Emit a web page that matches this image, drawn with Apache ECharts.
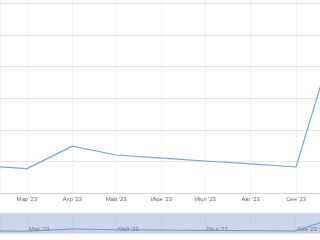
<!DOCTYPE html>
<html><head><meta charset="utf-8">
<script src="https://cdn.jsdelivr.net/npm/echarts@6/dist/echarts.min.js"></script>
<style>html,body{margin:0;padding:0;background:#fff}#c{width:320px;height:240px}</style>
</head><body><div id="c"></div>
<script>
const dates = ['2023-02-01','2023-03-01','2023-04-01','2023-05-01','2023-06-01','2023-07-01','2023-08-01','2023-09-01','2023-10-01'];
const values = [0.86, 0.78, 1.49, 1.21, 1.11, 1.02, 0.93, 0.83, 5.41];
const monthNames = ['Янв','Фев','Мар','Апр','Май','Июн','Июл','Авг','Сен','Окт','Ноя','Дек'];
const navMonths = [2, 4, 6, 8, 10, 0];

function toTime(s){ const p=s.split('-'); return new Date(+p[0], +p[1]-1, +p[2]).getTime(); }
const DAY = 86400000;
const xMin = toTime('2023-03-01') - 18.47*DAY;
const xMax = toTime('2023-03-01') + 200.4*DAY;
const seriesData = dates.map((d,i)=>[toTime(d), values[i]]);
function lbl(v){ const d=new Date(v); if(d.getDate()!==1) return ''; return monthNames[d.getMonth()]+" '"+String(d.getFullYear()%100).padStart(2,'0'); }
function navLbl(v){ const d=new Date(v); if(d.getDate()!==1 || navMonths.indexOf(d.getMonth())<0) return ''; return lbl(v); }

const chart = echarts.init(document.getElementById('c'), null, {renderer:'canvas'});
chart.setOption({
  animation:false,
  grid:[
    {left:0,right:0,top:0,bottom:46.7,containLabel:false},
    {left:0,right:0,top:213,bottom:6.4,show:true,backgroundColor:'#ccd6eb',borderWidth:0}
  ],
  xAxis:[
    {type:'time',gridIndex:0,min:xMin,max:xMax,minInterval:28*DAY,maxInterval:31*DAY,
     axisLine:{show:true,lineStyle:{color:'#ccd6eb',width:1}},axisTick:{show:false},
     splitLine:{show:true,lineStyle:{color:'#ececec',width:1,type:[2,2]}},
     axisLabel:{formatter:lbl,color:'#666',fontSize:5.8,fontFamily:'Liberation Sans, Arial, sans-serif',margin:3,showMinLabel:false,showMaxLabel:false,hideOverlap:false}},
    {type:'time',gridIndex:1,min:xMin,max:xMax,minInterval:28*DAY,maxInterval:31*DAY,
     axisLine:{show:false},axisTick:{show:false},
     splitLine:{show:true,lineStyle:{color:'#c3cde3',width:1}},
     axisLabel:{inside:true,formatter:navLbl,color:'#6b7690',fontSize:5.8,fontFamily:'Liberation Sans, Arial, sans-serif',margin:1,align:'left',padding:[0,0,0,2],showMinLabel:false,showMaxLabel:false,hideOverlap:false}}
  ],
  yAxis:[
    {type:'value',gridIndex:0,min:0,max:6.105,interval:1,axisLabel:{show:false},axisLine:{show:false},axisTick:{show:false},
     splitLine:{show:true,showMinLine:false,showMaxLine:false,lineStyle:{color:'#e6e6e6',width:1}}},
    {type:'value',gridIndex:1,min:0,max:6.5,axisLabel:{show:false},axisLine:{show:false},axisTick:{show:false},splitLine:{show:false}}
  ],
  series:[
    {type:'line',xAxisIndex:0,yAxisIndex:0,data:seriesData,symbol:'none',clip:true,
     lineStyle:{color:'#6fa8e3',width:1.2}},
    {type:'line',xAxisIndex:1,yAxisIndex:1,data:seriesData,symbol:'none',clip:true,
     lineStyle:{color:'#6f9ad8',width:1},areaStyle:{color:'rgba(51,92,173,0.05)'}}
  ]
});
</script></body></html>
